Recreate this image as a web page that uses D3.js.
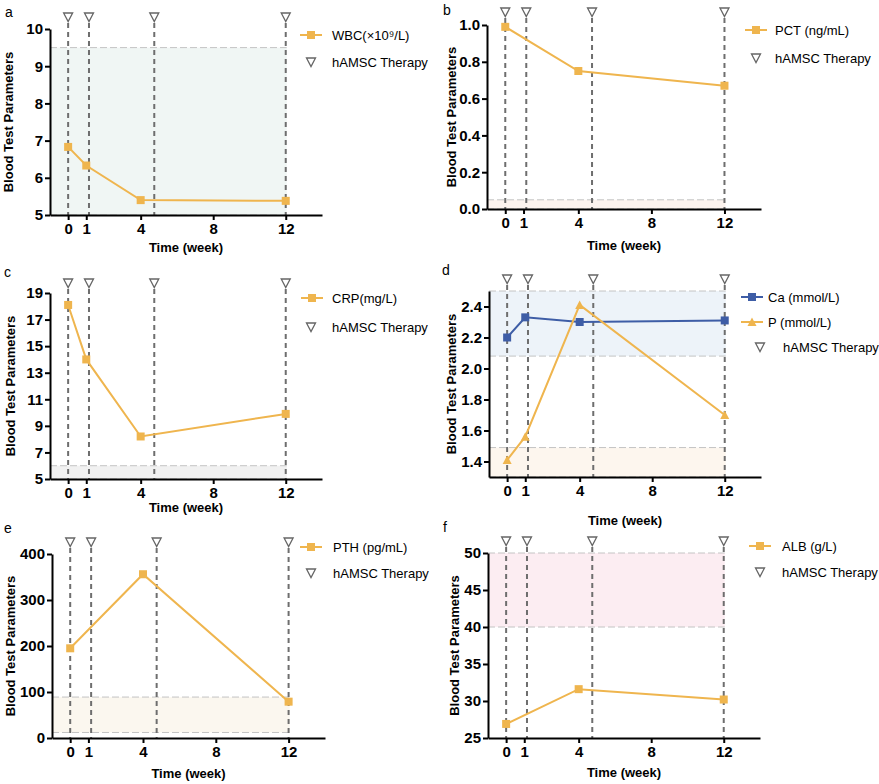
<!DOCTYPE html>
<html>
<head>
<meta charset="utf-8">
<script src="https://cdn.jsdelivr.net/npm/d3@7"></script>
<style>
  body { margin: 0; background: #fff; }
  text { font-family: "Liberation Sans", Arial, sans-serif; }
</style>
</head>
<body>
<script>
// Blood test parameters over time, six panels (a-f)

// ---- DATA
const weeks4 = [0, 1, 4, 12];        // sampling weeks (4 points)
const weeks3 = [0, 4, 12];           // sampling weeks (3 points)
const therapyWeeks = [0, 1.15, 4.75, 12]; // hAMSC therapy
const xTicks = [0, 1, 4, 8, 12];

const wbc = [6.83, 6.33, 5.40, 5.38];
const pct = [0.99, 0.75, 0.67];
const crp = [18.1, 14.0, 8.2, 9.9];
const ca = [2.20, 2.33, 2.30, 2.31];
const phos = [1.41, 1.56, 2.41, 1.70];
const pth = [195, 356, 79];
const alb = [26.9, 31.6, 30.2];

const wbcTicks = [5, 6, 7, 8, 9, 10];
const pctTicks = [0, 0.2, 0.4, 0.6, 0.8, 1.0];
const crpTicks = [5, 7, 9, 11, 13, 15, 17, 19];
const caTicks = [1.4, 1.6, 1.8, 2.0, 2.2, 2.4];
const pthTicks = [0, 100, 200, 300, 400];
const albTicks = [25, 30, 35, 40, 45, 50];

// normal reference ranges
const wbcRange = [5, 9.5];
const pctRange = [0, 0.05];
const crpRange = [5, 6];
const caRange = [2.08, 2.5];
const phosRange = [1.3, 1.49];
const pthRange = [12, 89];
const albRange = [40, 50];

const orange = '#efb54e';
const blue = '#3e5da6';

const svg = d3.select('body').append('svg')
	.attr('width', 879)
	.attr('height', 784);

// box = [left, right, top, bottom]
const panels = [
	{ letter: 'a', lp: [5, 17], box: [50, 322, 29, 215], yDomain: [5, 10], yTicks: wbcTicks, fmt: d3.format('d'),
		series: [{ name: 'WBC(×10⁹/L)', x: weeks4, y: wbc, color: orange, shape: 'square' }],
		ranges: [{ r: wbcRange, fill: '#f0f6f4' }],
		triY: 17, yLabOff: 37, xLabOff: 37,
		legend: { sx: 311, tx: 332, tsx: 311, ttx: 332, y: 35, gap: 27 } },
	{ letter: 'b', lp: [443, 15], box: [487, 761, 25, 209], yDomain: [0, 1], yTicks: pctTicks, fmt: d3.format('.1f'),
		series: [{ name: 'PCT (ng/mL)', x: weeks3, y: pct, color: orange, shape: 'square' }],
		ranges: [{ r: pctRange, fill: '#fcf3ee' }],
		triY: 12, yLabOff: 31, xLabOff: 41,
		legend: { sx: 756, tx: 775, tsx: 756, ttx: 775, y: 30, gap: 28 } },
	{ letter: 'c', lp: [4, 277], box: [50, 322, 293, 479], yDomain: [5, 19], yTicks: crpTicks, fmt: d3.format('d'),
		series: [{ name: 'CRP(mg/L)', x: weeks4, y: crp, color: orange, shape: 'square' }],
		ranges: [{ r: crpRange, fill: '#f1f1f1' }],
		triY: 283, yLabOff: 35, xLabOff: 33,
		legend: { sx: 312, tx: 332, tsx: 311, ttx: 332, y: 298, gap: 29 } },
	{ letter: 'd', lp: [442, 275], box: [489, 761, 291, 477], yDomain: [1.3, 2.5], yTicks: caTicks, fmt: d3.format('.1f'),
		series: [
			{ name: 'Ca (mmol/L)', x: weeks4, y: ca, color: blue, shape: 'square' },
			{ name: 'P (mmol/L)', x: weeks4, y: phos, color: orange, shape: 'triangle' }
		],
		ranges: [{ r: caRange, fill: '#edf3f9' }, { r: phosRange, fill: '#fdf6ee' }],
		triY: 279, yLabOff: 33, xLabOff: 48,
		legend: { sx: 752, tx: 768, tsx: 760, ttx: 783, y: 297, gap: 25 } },
	{ letter: 'e', lp: [4, 533], box: [52, 325, 554, 738], yDomain: [0, 400], yTicks: pthTicks, fmt: d3.format('d'),
		series: [{ name: 'PTH (pg/mL)', x: weeks3, y: pth, color: orange, shape: 'square' }],
		ranges: [{ r: pthRange, fill: '#fbf7ef' }],
		triY: 542, yLabOff: 37, xLabOff: 40,
		legend: { sx: 311, tx: 333, tsx: 311, ttx: 333, y: 547, gap: 26 } },
	{ letter: 'f', lp: [443, 532], box: [488, 760, 553, 738], yDomain: [25, 50], yTicks: albTicks, fmt: d3.format('d'),
		series: [{ name: 'ALB (g/L)', x: weeks3, y: alb, color: orange, shape: 'square' }],
		ranges: [{ r: albRange, fill: '#fcedf2' }],
		triY: 541, yLabOff: 29, xLabOff: 39,
		legend: { sx: 760, tx: 782, tsx: 760, ttx: 782, y: 546, gap: 26 } }
];

function marker(g, shape, cx, cy, color) {
	if (shape === 'square') {
		g.append('rect')
			.attr('x', cx - 4).attr('y', cy - 4)
			.attr('width', 8).attr('height', 8)
			.attr('fill', color);
	} else {
		g.append('path')
			.attr('d', `M${cx - 4.5},${cy + 4}L${cx + 4.5},${cy + 4}L${cx},${cy - 4.5}Z`)
			.attr('fill', color);
	}
}

function therapyMark(g, cx, cy) {
	g.append('path')
		.attr('d', `M${cx - 4.5},${cy - 4}L${cx + 4.5},${cy - 4}L${cx},${cy + 4.5}Z`)
		.attr('fill', '#fff')
		.attr('stroke', '#666')
		.attr('stroke-width', 1.3);
}

panels.forEach(p => {
	const [left, right, top, bottom] = p.box;
	const g = svg.append('g');

	const x = d3.scaleLinear().domain([-1, 14]).range([left, right]);
	const y = d3.scaleLinear().domain(p.yDomain).range([bottom, top]);

	// panel letter
	g.append('text').attr('x', p.lp[0]).attr('y', p.lp[1])
		.attr('font-size', 14).text(p.letter);

	// reference bands
	p.ranges.forEach(rg => {
		g.append('rect')
			.attr('x', left).attr('y', y(rg.r[1]))
			.attr('width', x(12) + 1 - left)
			.attr('height', y(rg.r[0]) - y(rg.r[1]))
			.attr('fill', rg.fill);
		rg.r.forEach(v => {
			g.append('line')
				.attr('x1', left).attr('x2', x(12) + 1)
				.attr('y1', y(v)).attr('y2', y(v))
				.attr('stroke', '#c4c4c4').attr('stroke-width', 1)
				.attr('stroke-dasharray', '7,3');
		});
	});

	// therapy dashed lines
	g.selectAll('line.therapy')
			.data(therapyWeeks)
			.enter()
		.append('line')
			.attr('class', 'therapy')
			.attr('x1', d => x(d)).attr('x2', d => x(d))
			.attr('y1', p.triY + 6).attr('y2', bottom)
			.attr('stroke', '#6e6e6e')
			.attr('stroke-width', 2)
			.attr('stroke-dasharray', '5,4');

	therapyWeeks.forEach(w => therapyMark(g, x(w), p.triY));

	// axes
	const yAxis = g.append('g')
		.attr('transform', `translate(${left},0)`)
		.call(d3.axisLeft(y).tickValues(p.yTicks).tickFormat(p.fmt).tickSize(5).tickSizeOuter(0).tickPadding(2));
	const xAxis = g.append('g')
		.attr('transform', `translate(0,${bottom})`)
		.call(d3.axisBottom(x).tickValues(xTicks).tickFormat(d3.format('d')).tickSize(5).tickSizeOuter(0).tickPadding(3));
	[yAxis, xAxis].forEach(ax => {
		ax.select('.domain').attr('stroke', '#000').attr('stroke-width', 2);
		ax.selectAll('.tick line').attr('stroke', '#000').attr('stroke-width', 2);
		ax.selectAll('.tick text')
			.attr('fill', '#000')
			.attr('font-size', 15)
			.attr('font-weight', 'bold')
			.attr('font-family', '"Liberation Sans", Arial, sans-serif');
	});

	// axis titles
	g.append('text')
		.attr('x', (left + right) / 2).attr('y', bottom + p.xLabOff)
		.attr('text-anchor', 'middle')
		.attr('font-size', 13).attr('font-weight', 'bold')
		.text('Time (week)');
	g.append('text')
		.attr('transform', `translate(${left - p.yLabOff},${(top + bottom) / 2}) rotate(-90)`)
		.attr('text-anchor', 'middle')
		.attr('font-size', 13).attr('font-weight', 'bold')
		.text('Blood Test Parameters');

	// series
	p.series.forEach(s => {
		const pts = s.x.map((w, i) => [w, s.y[i]]);
		g.append('path')
			.datum(pts)
			.attr('fill', 'none')
			.attr('stroke', s.color)
			.attr('stroke-width', 2)
			.attr('d', d3.line().x(d => x(d[0])).y(d => y(d[1])));
		pts.forEach(d => marker(g, s.shape, x(d[0]), y(d[1]), s.color));
	});

	// legend
	const L = p.legend;
	p.series.forEach((s, i) => {
		const ly = L.y + i * L.gap;
		g.append('line')
			.attr('x1', L.sx - 11).attr('x2', L.sx + 11)
			.attr('y1', ly).attr('y2', ly)
			.attr('stroke', s.color).attr('stroke-width', 2);
		marker(g, s.shape, L.sx, ly, s.color);
		g.append('text').attr('x', L.tx).attr('y', ly + 4.5)
			.attr('font-size', 13).text(s.name);
	});
	const ty = L.y + p.series.length * L.gap;
	therapyMark(g, L.tsx, ty);
	g.append('text').attr('x', L.ttx).attr('y', ty + 4.5)
		.attr('font-size', 13).text('hAMSC Therapy');
});
</script>
</body>
</html>
